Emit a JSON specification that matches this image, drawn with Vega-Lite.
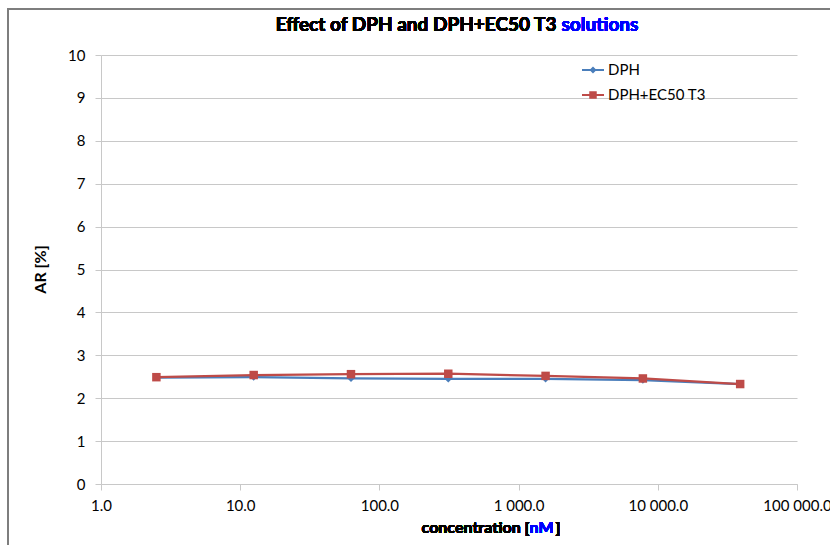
{
  "$schema": "https://vega.github.io/schema/vega-lite/v6.json",
  "autosize": {"type": "none"},
  "padding": {"left": 101, "top": 55, "right": 33, "bottom": 61},
  "width": 696,
  "height": 429,
  "background": "white",
  "config": {
    "font": "Lato",
    "view": {"stroke": null},
    "axis": {"labelFont": "Lato", "labelFontSize": 15, "labelColor": "#000000", "titleFont": "Lato"}
  },
  "data": {
    "values": [
      {"conc": 2.5, "series": "DPH", "ar": 2.48},
      {"conc": 12.5, "series": "DPH", "ar": 2.49},
      {"conc": 62.5, "series": "DPH", "ar": 2.46},
      {"conc": 312.5, "series": "DPH", "ar": 2.45},
      {"conc": 1562.5, "series": "DPH", "ar": 2.45},
      {"conc": 7812.5, "series": "DPH", "ar": 2.42},
      {"conc": 39062.5, "series": "DPH", "ar": 2.33},
      {"conc": 2.5, "series": "DPH+EC50 T3", "ar": 2.49},
      {"conc": 12.5, "series": "DPH+EC50 T3", "ar": 2.54},
      {"conc": 62.5, "series": "DPH+EC50 T3", "ar": 2.56},
      {"conc": 312.5, "series": "DPH+EC50 T3", "ar": 2.57},
      {"conc": 1562.5, "series": "DPH+EC50 T3", "ar": 2.52},
      {"conc": 7812.5, "series": "DPH+EC50 T3", "ar": 2.46},
      {"conc": 39062.5, "series": "DPH+EC50 T3", "ar": 2.33}
    ]
  },
  "layer": [
    {
      "mark": {"type": "rect", "fill": null, "fillOpacity": 0, "stroke": "#7f7f7f", "strokeWidth": 1.3, "clip": false},
      "encoding": {
        "x": {"datum": 0.214},
        "x2": {"datum": 10000000},
        "y": {"datum": 11.07},
        "y2": {"datum": -5}
      }
    },
    {
      "mark": {"type": "line", "strokeWidth": 2.25},
      "encoding": {
        "x": {
          "field": "conc", "type": "quantitative",
          "scale": {"type": "log", "domain": [1, 100000]},
          "axis": {
            "values": [1, 10, 100, 1000, 10000, 100000],
            "labelExpr": "replace(format(datum.value, ',.1f'), regexp(',', 'g'), ' ')",
            "grid": false,
            "domainColor": "#c8c8c8",
            "tickColor": "#c8c8c8",
            "tickSize": 6,
            "labelPadding": 8,
            "labelFlush": false,
            "labelOverlap": false,
            "title": null
          }
        },
        "y": {
          "field": "ar", "type": "quantitative",
          "scale": {"domain": [0, 10], "nice": false},
          "axis": {
            "values": [0, 1, 2, 3, 4, 5, 6, 7, 8, 9, 10],
            "grid": true,
            "gridColor": "#c8c8c8",
            "gridWidth": 1,
            "domainColor": "#c8c8c8",
            "tickColor": "#c8c8c8",
            "tickSize": 6,
            "labelPadding": 10,
            "title": "AR [%]",
            "titleFontSize": 16,
            "titleFontWeight": "bold",
            "titleColor": "#000000",
            "titleAngle": -90,
            "titleX": -61,
            "titleY": 214,
            "titleAlign": "center",
            "titleBaseline": "middle"
          }
        },
        "color": {
          "field": "series", "type": "nominal",
          "scale": {"domain": ["DPH", "DPH+EC50 T3"], "range": ["#4A7EBB", "#BE4B48"]},
          "legend": {
            "title": null,
            "orient": "none",
            "legendX": 481,
            "legendY": 4,
            "labelFont": "Lato",
            "labelFontSize": 15,
            "labelColor": "#000000",
            "labelOffset": 4,
            "rowPadding": 6,
            "symbolSize": 484,
            "symbolStrokeWidth": 0,
            "encode": {
              "symbols": {
                "update": {
                  "shape": {"signal": "datum.value === 'DPH' ? 'M-1,-0.09L1,-0.09L1,0.09L-1,0.09Z M0,-0.32L0.32,0L0,0.32L-0.32,0Z' : 'M-1,-0.09L1,-0.09L1,0.09L-1,0.09Z M-0.34,-0.34L0.34,-0.34L0.34,0.34L-0.34,0.34Z'"},
                  "fill": {"signal": "datum.value === 'DPH' ? '#4A7EBB' : '#BE4B48'"},
                  "stroke": {"value": "transparent"},
                  "strokeWidth": {"value": 0}
                }
              }
            }
          }
        }
      }
    },
    {
      "transform": [{"filter": "datum.series === 'DPH'"}],
      "mark": {"type": "point", "filled": true, "opacity": 1, "shape": "diamond", "size": 49, "color": "#4A7EBB"},
      "encoding": {
        "x": {"field": "conc", "type": "quantitative"},
        "y": {"field": "ar", "type": "quantitative"}
      }
    },
    {
      "transform": [{"filter": "datum.series === 'DPH+EC50 T3'"}],
      "mark": {"type": "point", "filled": true, "opacity": 1, "shape": "square", "size": 72, "color": "#BE4B48"},
      "encoding": {
        "x": {"field": "conc", "type": "quantitative"},
        "y": {"field": "ar", "type": "quantitative"}
      }
    },
    {
      "mark": {"type": "text", "text": "Effect of DPH and DPH+EC50 T3", "align": "right", "baseline": "middle", "dx": -4, "dy": -30, "font": "Lato", "fontSize": 19, "fontWeight": "bold", "color": "#000000"},
      "encoding": {"x": {"datum": 2000}, "y": {"datum": 10}}
    },
    {
      "mark": {"type": "text", "text": "solutions", "align": "left", "baseline": "middle", "dx": 1, "dy": -30, "font": "Lato", "fontSize": 19, "fontWeight": "bold", "color": "#0000FF"},
      "encoding": {"x": {"datum": 2000}, "y": {"datum": 10}}
    },
    {
      "mark": {"type": "text", "text": "concentration [", "align": "right", "baseline": "middle", "dx": 0, "dy": 44, "font": "Lato", "fontSize": 16, "fontWeight": "bold", "color": "#000000"},
      "encoding": {"x": {"datum": 1200}, "y": {"datum": 0}}
    },
    {
      "mark": {"type": "text", "text": "nM", "align": "left", "baseline": "middle", "dx": 0, "dy": 44, "font": "Lato", "fontSize": 16, "fontWeight": "bold", "color": "#0000FF"},
      "encoding": {"x": {"datum": 1200}, "y": {"datum": 0}}
    },
    {
      "mark": {"type": "text", "text": "]", "align": "left", "baseline": "middle", "dx": 26, "dy": 44, "font": "Lato", "fontSize": 16, "fontWeight": "bold", "color": "#000000"},
      "encoding": {"x": {"datum": 1200}, "y": {"datum": 0}}
    }
  ]
}
